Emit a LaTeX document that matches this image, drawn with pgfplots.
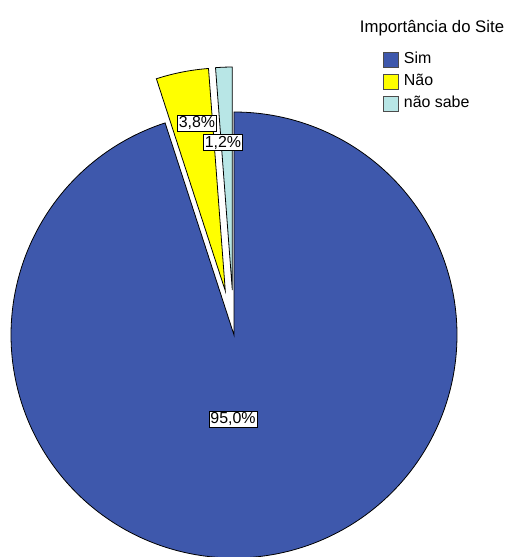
\documentclass[border=0pt]{standalone}
\usepackage{graphicx}
\usepackage{pgfplots}
\pgfplotsset{compat=1.18}
\usepackage{pgfplotstable}
\usepackage{fontspec}
\setmainfont{Liberation Sans}
\definecolor{sim}{HTML}{3E58AC}
\definecolor{nao}{HTML}{FFFF00}
\definecolor{naosabe}{HTML}{B8E6E6}
\pgfplotstableread{
cat pct
Sim 95.0
Nao 3.8
NaoSabe 1.2
}\piedata
\pgfplotstablegetelem{0}{pct}\of\piedata \let\pA\pgfplotsretval
\pgfplotstablegetelem{1}{pct}\of\piedata \let\pB\pgfplotsretval
\pgfplotstablegetelem{2}{pct}\of\piedata \let\pC\pgfplotsretval
\pgfmathsetmacro\aA{90-3.6*\pA}
\pgfmathsetmacro\aB{\aA-3.6*\pB}
\pgfmathsetmacro\aC{\aB-3.6*\pC}
\pgfmathsetmacro\mB{(\aA+\aB)/2}
\pgfmathsetmacro\mC{(\aB+\aC)/2}
\def\cx{234}\def\cy{222}\def\R{223}\def\ex{45}
\pgfmathsetmacro\bx{\cx+\ex*cos(\mB)}
\pgfmathsetmacro\by{\cy+\ex*sin(\mB)}
\pgfmathsetmacro\ccx{\cx+\ex*cos(\mC)}
\pgfmathsetmacro\ccy{\cy+\ex*sin(\mC)}
\begin{document}%
\begin{tikzpicture}
\begin{axis}[
  scale only axis, width=508bp, height=557bp,
  xmin=0, xmax=508, ymin=0, ymax=557,
  hide axis, clip=false,
  area legend,
  legend image code/.code={\draw[#1, draw=black!70, line width=0.9pt] (0bp,-7.5bp) rectangle (15bp,7.5bp);},
  legend style={at={(axis cs:383,506)}, anchor=north west, draw=none, fill=none,
    inner sep=0pt, outer sep=0pt,
    font=\fontsize{16}{16}\selectfont, row sep=4.5bp, column sep=4bp,
    nodes={inner sep=1bp, text height=12bp, text depth=3.5bp}},
  legend cell align=left,
]
\addplot[draw=black, line width=0.8pt, fill=sim, domain=\aA:90, samples=300, variable=\t]
  ({\cx+\R*cos(t)},{\cy+\R*sin(t)}) -- (axis cs:\cx,\cy) -- cycle;
\addlegendentry{Sim}
\addplot[draw=black, line width=0.8pt, fill=nao, domain=\aB:\aA, samples=30, variable=\t]
  ({\bx+\R*cos(t)},{\by+\R*sin(t)}) -- (axis cs:\bx,\by) -- cycle;
\addlegendentry{Não}
\addplot[draw=black, line width=0.8pt, fill=naosabe, domain=\aC:\aB, samples=20, variable=\t]
  ({\ccx+\R*cos(t)},{\ccy+\R*sin(t)}) -- (axis cs:\ccx,\ccy) -- cycle;
\addlegendentry{não sabe}
\node[font=\fontsize{16.8}{16.8}\selectfont] at (axis cs:432,529) {Importância do Site};
\tikzset{lbl/.style={draw=black, fill=white, inner sep=1.5bp, line width=0.8pt, font=\fontsize{16}{16}\selectfont}}
\node[lbl] at (axis cs:233,138) {95,0\%};
\node[lbl] at (axis cs:197,434) {3,8\%};
\node[lbl] at (axis cs:223,414.5) {1,2\%};
\end{axis}
\pgfresetboundingbox
\path (0,0) rectangle (508bp,557bp);
\end{tikzpicture}%
\end{document}
